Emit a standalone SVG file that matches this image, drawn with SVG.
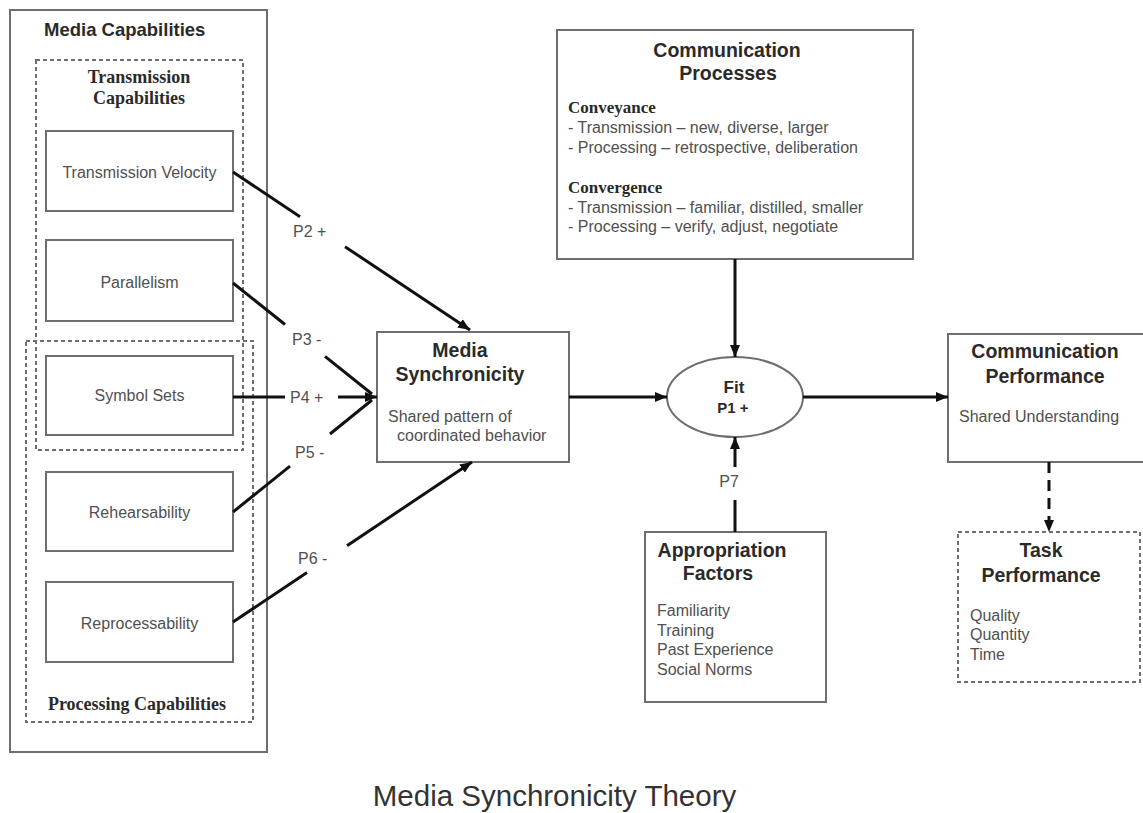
<svg xmlns="http://www.w3.org/2000/svg" width="1143" height="813" viewBox="0 0 1143 813">
<defs>
<marker id="ah" markerUnits="userSpaceOnUse" markerWidth="14" markerHeight="12" refX="12" refY="6" orient="auto">
<path d="M0,1 L12,6 L0,11 Z" fill="#111"/>
</marker>
<style>
.box{fill:#fff;stroke:#6e6e6e;stroke-width:2}
.dbox{fill:none;stroke:#6e6e6e;stroke-width:2;stroke-dasharray:4 3}
.t{font-family:"Liberation Sans",Arial,sans-serif;font-size:16px;fill:#505050}
.c{text-anchor:middle}
.h{font-family:"Liberation Sans",Arial,sans-serif;font-size:19.5px;font-weight:bold;fill:#2a2a2a;text-anchor:middle}
.s{font-family:"Liberation Serif","Times New Roman",serif;font-size:18px;font-weight:bold;fill:#2a2a2a}
.ln{stroke:#111;stroke-width:3;fill:none}
</style>
</defs>
<rect width="1143" height="813" fill="#fff"/>

<g id="media-capabilities">
<rect class="box" x="10" y="10" width="257" height="742"/>
<text x="44" y="36" style="font-family:'Liberation Sans',Arial,sans-serif;font-size:18.5px;font-weight:bold;fill:#2a2a2a">Media Capabilities</text>
</g>
<g id="transmission-capabilities">
<rect class="dbox" x="36" y="60" width="207" height="390"/>
<text class="s c" x="139" y="83">Transmission</text>
<text class="s c" x="139" y="104">Capabilities</text>
</g>
<g id="processing-capabilities">
<rect class="dbox" x="26" y="341" width="227" height="381"/>
<text class="s c" x="137" y="710">Processing Capabilities</text>
</g>
<g id="transmission-velocity">
<rect class="box" x="46" y="131" width="187" height="80"/>
<text class="t c" x="139.5" y="178">Transmission Velocity</text>
</g>
<g id="parallelism">
<rect class="box" x="46" y="240" width="187" height="81"/>
<text class="t c" x="139.5" y="288">Parallelism</text>
</g>
<g id="symbol-sets">
<rect class="box" x="46" y="356" width="187" height="79"/>
<text class="t c" x="139.5" y="401">Symbol Sets</text>
</g>
<g id="rehearsability">
<rect class="box" x="46" y="472" width="187" height="79"/>
<text class="t c" x="139.5" y="518">Rehearsability</text>
</g>
<g id="reprocessability">
<rect class="box" x="46" y="582" width="187" height="80"/>
<text class="t c" x="139.5" y="629">Reprocessability</text>
</g>

<g id="media-synchronicity">
<rect class="box" x="377" y="332" width="192" height="130"/>
<text class="h" x="460" y="357">Media</text>
<text class="h" x="460" y="381">Synchronicity</text>
<text class="t" x="388" y="422">Shared pattern of</text>
<text class="t" x="397" y="441">coordinated behavior</text>
</g>

<g id="communication-processes">
<rect class="box" x="557" y="30" width="356" height="229"/>
<text class="h" x="727" y="57">Communication</text>
<text class="h" x="728" y="80">Processes</text>
<text class="s" x="568" y="113" style="font-size:17px">Conveyance</text>
<text class="t" x="568" y="133">- Transmission – new, diverse, larger</text>
<text class="t" x="568" y="153">- Processing – retrospective, deliberation</text>
<text class="s" x="568" y="193" style="font-size:17px">Convergence</text>
<text class="t" x="568" y="213">- Transmission – familiar, distilled, smaller</text>
<text class="t" x="568" y="232">- Processing – verify, adjust, negotiate</text>
</g>

<g id="fit">
<ellipse cx="735" cy="397" rx="68" ry="40" fill="#fff" stroke="#6e6e6e" stroke-width="2"/>
<text class="h" x="734" y="393" style="font-size:17px">Fit</text>
<text class="h" x="733" y="413" style="font-size:15px">P1 +</text>
</g>

<g id="appropriation-factors">
<rect class="box" x="645" y="532" width="181" height="170"/>
<text class="h" x="722" y="557">Appropriation</text>
<text class="h" x="718" y="580">Factors</text>
<text class="t" x="657" y="616">Familiarity</text>
<text class="t" x="657" y="635.5">Training</text>
<text class="t" x="657" y="655">Past Experience</text>
<text class="t" x="657" y="674.5">Social Norms</text>
</g>

<g id="communication-performance">
<rect class="box" x="948" y="334" width="210" height="128"/>
<text class="h" x="1045" y="358">Communication</text>
<text class="h" x="1045" y="383">Performance</text>
<text class="t" x="959" y="422">Shared Understanding</text>
</g>

<g id="task-performance">
<rect class="dbox" x="958" y="532" width="182" height="150"/>
<text class="h" x="1041" y="557">Task</text>
<text class="h" x="1041" y="582">Performance</text>
<text class="t" x="970" y="621">Quality</text>
<text class="t" x="970" y="640">Quantity</text>
<text class="t" x="970" y="660">Time</text>
</g>

<g id="connectors">
<line class="ln" x1="233" y1="172" x2="300" y2="216.7"/>
<line class="ln" x1="345" y1="246.7" x2="470" y2="330" marker-end="url(#ah)"/>
<text class="t" x="293" y="237">P2 +</text>

<line class="ln" x1="233" y1="283" x2="285" y2="324.5"/>
<line class="ln" x1="325" y1="356.3" x2="372" y2="394"/>
<text class="t" x="292" y="345">P3 -</text>

<line class="ln" x1="233" y1="397" x2="285" y2="397"/>
<line class="ln" x1="338" y1="397" x2="377" y2="397" marker-end="url(#ah)"/>
<text class="t" x="290" y="403">P4 +</text>

<line class="ln" x1="233" y1="512" x2="290" y2="466.2"/>
<line class="ln" x1="330" y1="434" x2="372" y2="400"/>
<text class="t" x="295" y="458">P5 -</text>

<line class="ln" x1="233" y1="622" x2="307" y2="572.5"/>
<line class="ln" x1="347" y1="545.7" x2="472" y2="462" marker-end="url(#ah)"/>
<text class="t" x="298" y="564">P6 -</text>

<line class="ln" x1="569" y1="397" x2="667" y2="397" marker-end="url(#ah)"/>
<line class="ln" x1="735" y1="259" x2="735" y2="357" marker-end="url(#ah)"/>
<line class="ln" x1="735" y1="532" x2="735" y2="500"/>
<line class="ln" x1="735" y1="467" x2="735" y2="437" marker-end="url(#ah)"/>
<text class="t c" x="729" y="487">P7</text>
<line class="ln" x1="803" y1="397" x2="948" y2="397" marker-end="url(#ah)"/>
<line class="ln" x1="1049" y1="462" x2="1049" y2="532" stroke-dasharray="11 7" marker-end="url(#ah)"/>
</g>

<text x="554.5" y="806" text-anchor="middle" style="font-family:'Liberation Sans',Arial,sans-serif;font-size:29.5px;fill:#333">Media Synchronicity Theory</text>
</svg>
